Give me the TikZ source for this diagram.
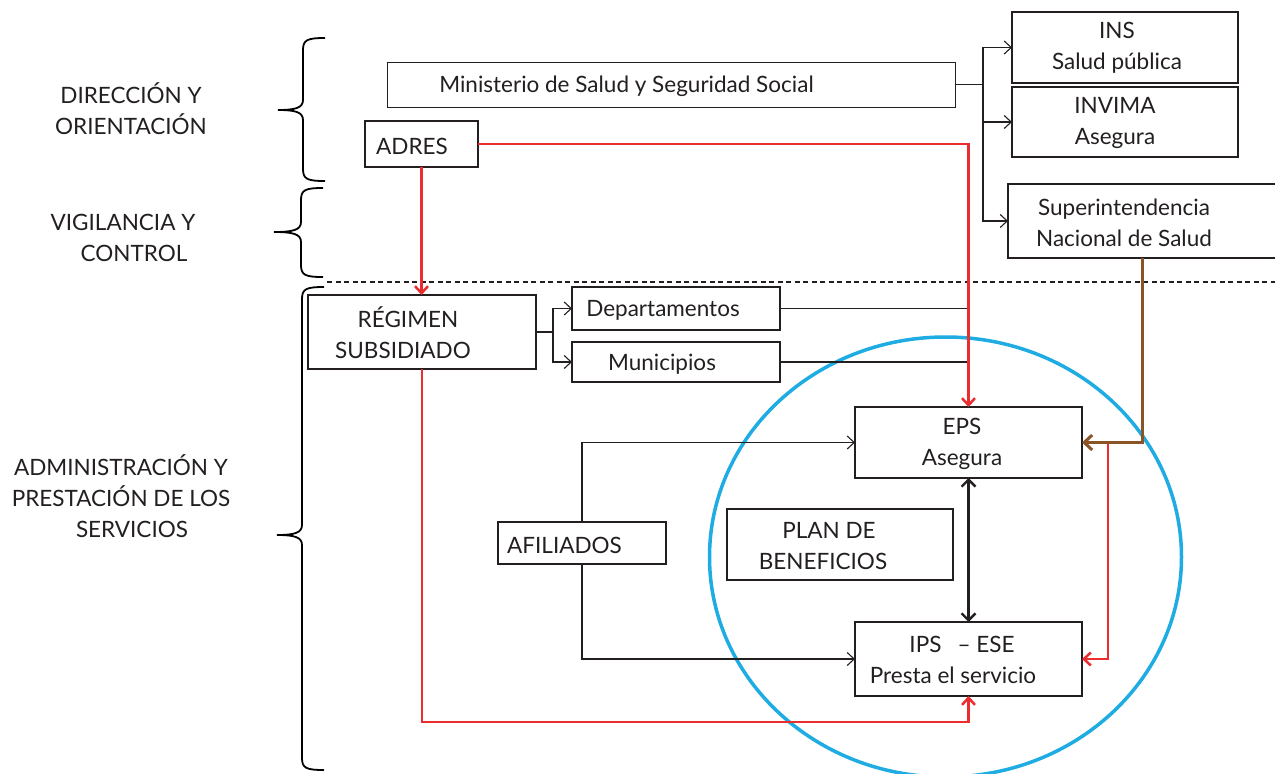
\documentclass[tikz,border=0pt]{standalone}
\usepackage{fontspec}
\setmainfont{Lato}
\usetikzlibrary{arrows.meta,shapes.geometric}
\definecolor{myred}{RGB}{236,45,48}
\definecolor{mybrown}{RGB}{139,84,38}
\definecolor{myblue}{RGB}{30,172,226}
\definecolor{ink}{RGB}{35,31,32}
\newcommand\mybrace[5]{% x, top, bottom, mid, tipx
  \draw[bracestyle] ({#1+22},{#2}) .. controls ({#1+4},{#2}) and ({#1},{#2+2}) .. ({#1},{#2+12})
    -- ({#1},{#4-10}) .. controls ({#1},{#4-2}) and ({#1-8},{#4}) .. ({#5},{#4})
    .. controls ({#1-8},{#4}) and ({#1},{#4+2}) .. ({#1},{#4+10})
    -- ({#1},{#3-12}) .. controls ({#1},{#3-2}) and ({#1+4},{#3}) .. ({#1+22},{#3});}
\begin{document}
\begin{tikzpicture}[x=1pt,y=-1pt,
  box/.style={draw=ink, line width=1.6pt, inner sep=0pt, outer sep=0pt},
  txt/.style={font=\fontsize{22.5}{31}\selectfont, align=center, inner sep=0pt, text=ink},
  plain/.style={draw=ink, line width=1.1pt},
  conn/.style={draw=ink, line width=1.1pt, -{Straight Barb[length=7pt,width=13pt,line width=1.1pt]}},
  redarr/.style={draw=myred, line width=2.5pt, -{Straight Barb[length=7pt,width=13pt,line width=2.5pt]}},
  brownarr/.style={draw=mybrown, line width=3pt, -{Straight Barb[length=8pt,width=15pt,line width=3pt]}},
  dblarr/.style={draw=ink, line width=2.4pt, {Straight Barb[length=7pt,width=14pt,line width=2.4pt]}-{Straight Barb[length=7pt,width=14pt,line width=2.4pt]}},
  bracestyle/.style={draw=black, line width=1.8pt},
]
\useasboundingbox (0,0) rectangle (1275,774);
\clip (0,0) rectangle (1275,774);

% blue circle
\node[draw=myblue, line width=3.5pt, ellipse, inner sep=0pt, minimum width=472pt, minimum height=440pt] (circ) at (945.5,557) {};

% braces
\mybrace{303}{38}{181}{110}{278}
\mybrace{301}{188}{277}{232}{274}
\mybrace{302}{287}{770}{535}{277}

% dashed separator
\coordinate (d1) at (327,282);
\coordinate (d2) at (1275,282);
\draw[ink, line width=1.1pt, dash pattern=on 5pt off 3.5pt] (d1) -- (d2);

% left labels
\node[txt] (l1) at (131,108.5) {DIRECCIÓN Y\\ORIENTACIÓN};
\node[txt] (l2) at (123,237.5) {VIGILANCIA Y\\\hspace*{22pt}CONTROL};
\node[txt] (l3) at (121,496) {ADMINISTRACIÓN Y\\PRESTACIÓN DE LOS\\\hspace*{22pt}SERVICIOS};

% boxes
\node[box, line width=1pt, minimum width=568pt, minimum height=45pt] (min) at (671,84.5) {};
\node[box, minimum width=113pt, minimum height=46pt] (adres) at (421.5,144) {};
\node[box, minimum width=226pt, minimum height=71pt] (ins) at (1125,47.5) {};
\node[box, minimum width=226pt, minimum height=70pt] (invima) at (1125,122) {};
\node[box, minimum width=282pt, minimum height=74pt] (super) at (1149,221) {};
\node[box, minimum width=228pt, minimum height=74pt] (reg) at (422,332) {};
\node[box, minimum width=208pt, minimum height=43pt] (dep) at (676,308.5) {};
\node[box, minimum width=208pt, minimum height=40pt] (mun) at (676,362) {};
\node[box, minimum width=227pt, minimum height=71pt] (eps) at (968.5,442.5) {};
\node[box, minimum width=226pt, minimum height=71pt] (plan) at (840,544.5) {};
\node[box, minimum width=227pt, minimum height=74pt] (ips) at (968.5,659) {};
\node[box, minimum width=168pt, minimum height=42pt] (afil) at (582,543) {};

% box texts
\node[txt] (mint) at (626.5,86) {Ministerio de Salud y Seguridad Social};
\node[txt, anchor=west] (adrest) at (376,146) {ADRES};
\node[txt] (inst) at (1117,47.5) {INS\\Salud pública};
\node[txt] (invimat) at (1115,123) {INVIMA\\Asegura};
\node[txt] (supert) at (1124,222.5) {Superintendencia\\Nacional de Salud};
\node[txt] (regt) at (403,332.5) {\hspace*{10pt}RÉGIMEN\\SUBSIDIADO};
\node[txt] (dept) at (663,310) {Departamentos};
\node[txt] (munt) at (662,364) {Municipios};
\node[txt] (epst) at (962,444) {EPS\\Asegura};
\node[txt] (plant) at (823,546) {\hspace*{12pt}PLAN DE\\BENEFICIOS};
\node[txt] (ipst) at (953,660) {\hspace*{18pt}IPS\hspace{16pt}– ESE\\Presta el servicio};
\node[txt, anchor=west] (afilt) at (507,545) {AFILIADOS};

% junction coordinates
\coordinate (mj) at (983,0);
\coordinate (rj) at (553,0);
\coordinate (bj) at (1142,0);
\coordinate (rj2) at (1108,0);
\coordinate (rb) at (0,722);

% Ministerio branches
\draw[plain] (min.east) -- (min.east -| mj);
\draw[conn] (min.east -| mj) |- (ins.west);
\draw[conn] (min.east -| mj) |- (invima.west);
\draw[conn] (min.east -| mj) |- (super.west);

% Regimen branches
\draw[plain] (reg.east) -- (reg.east -| rj);
\draw[conn] (reg.east -| rj) |- (dep.west);
\draw[conn] (reg.east -| rj) |- (mun.west);
\draw[plain] (dep.east) -- (dep.east -| eps.north);
\draw[plain] (mun.east) -- (mun.east -| eps.north);

% Afiliados
\draw[conn] (afil.north) |- (eps.west);
\draw[conn] (afil.south) |- (ips.west);

% EPS <-> IPS
\draw[dblarr] (eps.south) -- (ips.north);

% red flows
\draw[redarr] (adres.east) -| (eps.north);
\draw[redarr] (adres.south) -- (adres.south |- reg.north);
\draw[redarr] (reg.south) -- (reg.south |- rb) -| (ips.south);
\draw[redarr] (eps.east -| rj2) |- (ips.east);

% brown
\draw[brownarr] (super.south -| bj) |- (eps.east);
\end{tikzpicture}
\end{document}
